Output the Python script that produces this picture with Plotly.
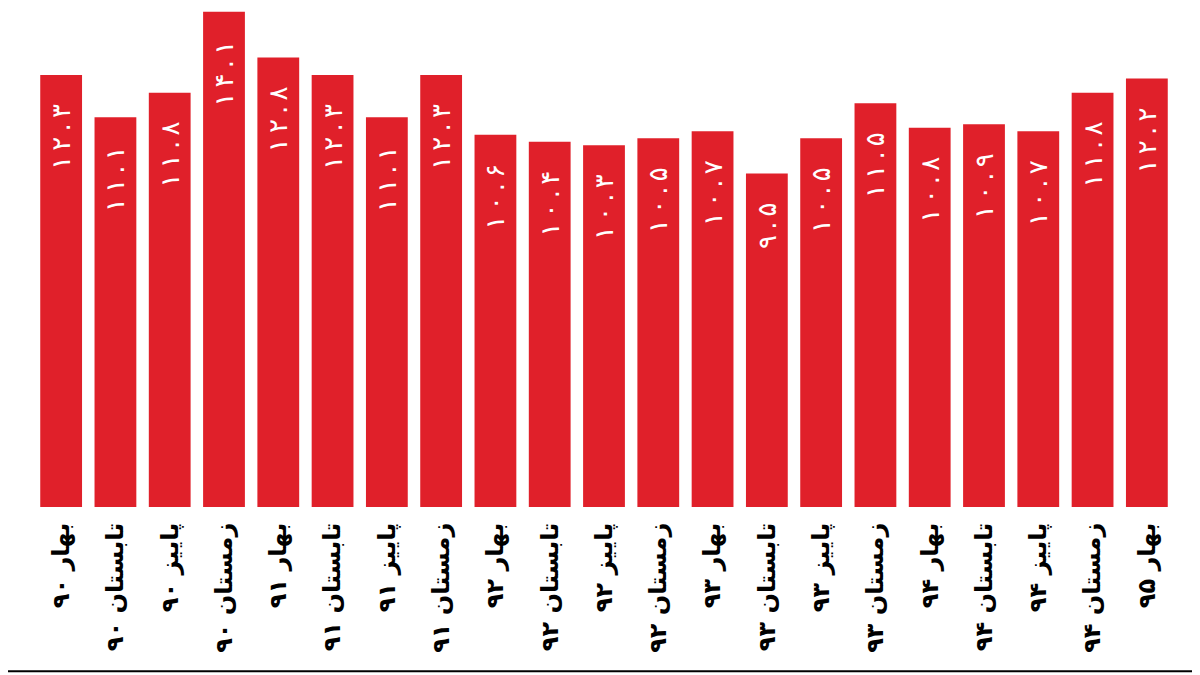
import plotly.graph_objects as go

seasons = ["بهار", "تابستان", "پاییز", "زمستان"]
years = ["۹۰", "۹۰", "۹۰", "۹۰", "۹۱", "۹۱", "۹۱", "۹۱", "۹۲", "۹۲", "۹۲",
         "۹۲", "۹۳", "۹۳", "۹۳", "۹۳", "۹۴", "۹۴", "۹۴", "۹۴", "۹۵"]
values = [12.3, 11.1, 11.8, 14.1, 12.8, 12.3, 11.1, 12.3, 10.6, 10.4, 10.3,
          10.5, 10.7, 9.5, 10.5, 11.5, 10.8, 10.9, 10.7, 11.8, 12.2]

labels = [seasons[i % 4] + " " + y for i, y in enumerate(years)]
fa_digits = str.maketrans("0123456789", "۰۱۲۳۴۵۶۷۸۹")
# digits in the picture are spread out, so put thin spaces between them
value_text = ["\u2009".join(f"{v:.1f}".translate(fa_digits)) + "\u2003"
              for v in values]

fig = go.Figure(go.Bar(
    x=list(range(len(values))),
    y=values,
    marker=dict(color="#e0202a", line=dict(width=0)),
    text=value_text,
    textposition="inside",
    insidetextanchor="end",
    textangle=-90,
    textfont=dict(family="DejaVu Sans", size=26, color="white"),
))

fig.update_layout(
    width=1200,
    height=675,
    margin=dict(l=26, r=34, t=0, b=176),
    paper_bgcolor="white",
    plot_bgcolor="white",
    bargap=0.23,
    showlegend=False,
    xaxis=dict(
        tickmode="array",
        tickvals=list(range(len(values))),
        ticktext=["<b>" + t + "</b>" for t in labels],
        tickangle=-90,
        tickfont=dict(family="DejaVu Sans", size=24, color="black"),
        showgrid=False,
        zeroline=False,
        showline=False,
        ticks="",
        ticklabelstandoff=10,
    ),
    yaxis=dict(range=[0, 14.21], visible=False),
    shapes=[dict(type="line", xref="paper", yref="paper",
                 x0=-0.03, x1=1.03, y0=-0.329, y1=-0.329,
                 line=dict(color="black", width=2))],
)

fig.write_html("out.html")
